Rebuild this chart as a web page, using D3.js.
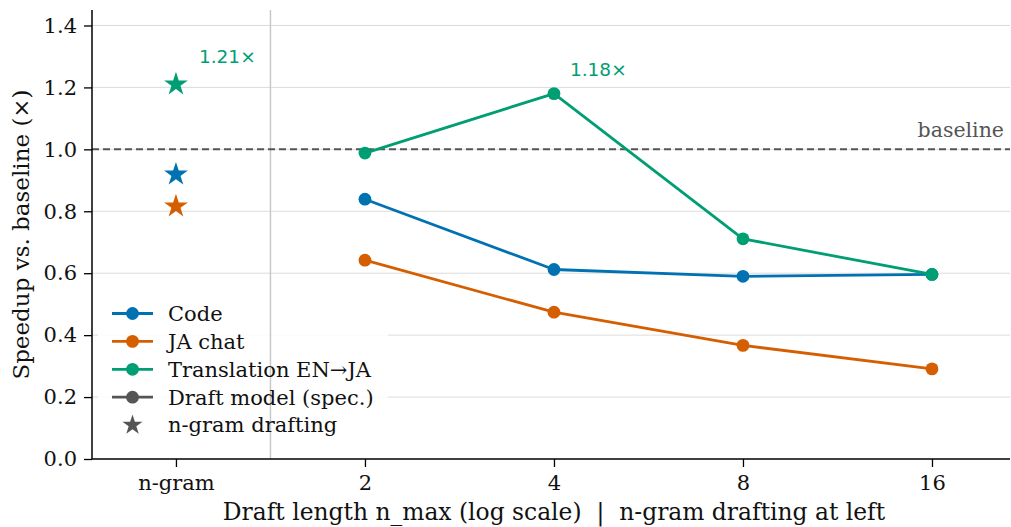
<!DOCTYPE html>
<html>
<head>
<meta charset="utf-8">
<script src="https://cdn.jsdelivr.net/npm/d3@7"></script>
<style>
  html, body { margin: 0; padding: 0; background: #fff; }
  svg { display: block; }
  text { white-space: pre; }
</style>
</head>
<body>
<svg id="chart" width="1011" height="527"></svg>
<script>
// Draft lengths (log-scaled x) and measured speedups per workload
const nMax = [2, 4, 8, 16];
const code = [0.839, 0.612, 0.590, 0.596];
const jaChat = [0.642, 0.474, 0.367, 0.291];
const translation = [0.988, 1.18, 0.711, 0.596];

// n-gram drafting results, drawn at the left slot
const ngramCode = 0.919;
const ngramJaChat = 0.816;
const ngramTranslation = 1.21;

const yTicks = [0.0, 0.2, 0.4, 0.6, 0.8, 1.0, 1.2, 1.4];
const xTickValues = [1, 2, 4, 8, 16];
const xTickLabels = ["n-gram", "2", "4", "8", "16"];
const seriesNames = ["Code", "JA chat", "Translation EN→JA"];
const colors = ["#0072B2", "#D55E00", "#009E73"];
const gray = "#555555";

const svg = d3.select("#chart");
const W = 1011, H = 527;
const margin = { top: 10, right: 1, bottom: 68, left: 92 };
const iw = W - margin.left - margin.right;
const ih = H - margin.top - margin.bottom;

const serif = "DejaVu Serif";
const sans = "DejaVu Sans";

// the n-gram slot sits at x=1 on the same log axis
const x = d3.scaleLog().base(2).domain([0.735, 21.3]).range([0, iw]);
const y = d3.scaleLinear().domain([0, 1.45]).range([ih, 0]);

const g = svg.append("g").attr("transform", `translate(${margin.left},${margin.top})`);

// horizontal grid
g.append("g").selectAll("line").data(yTicks.filter(d => d > 0)).join("line")
  .attr("x1", 0).attr("x2", iw)
  .attr("y1", d => y(d)).attr("y2", d => y(d))
  .attr("stroke", "#dcdcdc").attr("stroke-width", 1);

// legend background (drawn under the divider)
const legendRows = [
  { label: seriesNames[0], color: colors[0], kind: "line" },
  { label: seriesNames[1], color: colors[1], kind: "line" },
  { label: seriesNames[2], color: colors[2], kind: "line" },
  { label: "Draft model (spec.)", color: gray, kind: "line" },
  { label: "n-gram drafting", color: gray, kind: "star" }
];
const legendX = 20, legendY0 = 303.5, legendDy = 27.9;
g.append("rect")
  .attr("x", 6).attr("y", legendY0 - 18)
  .attr("width", 290).attr("height", legendDy * 5 + 8)
  .attr("fill", "#fff").attr("opacity", 0.85);

// divider between n-gram slot and draft-length sweep
g.append("line")
  .attr("x1", x(Math.SQRT2)).attr("x2", x(Math.SQRT2))
  .attr("y1", 0).attr("y2", ih)
  .attr("stroke", "#c8c8c8").attr("stroke-width", 1.5);

// baseline reference
g.append("line")
  .attr("x1", 0).attr("x2", iw)
  .attr("y1", y(1)).attr("y2", y(1))
  .attr("stroke", gray).attr("stroke-width", 2)
  .attr("stroke-dasharray", "7,4");
g.append("text")
  .attr("x", iw - 6).attr("y", y(1) - 12)
  .attr("text-anchor", "end")
  .attr("font-family", serif).attr("font-size", 20.5)
  .attr("fill", gray).text("baseline");

// series lines + markers
const allSeries = [code, jaChat, translation];
const line = d3.line().x((d, i) => x(nMax[i])).y(d => y(d));
allSeries.forEach((vals, k) => {
  g.append("path").datum(vals)
    .attr("d", line)
    .attr("fill", "none").attr("stroke", colors[k])
    .attr("stroke-width", 2.8).attr("stroke-linejoin", "round");
  g.append("g").selectAll("circle").data(vals).join("circle")
    .attr("cx", (d, i) => x(nMax[i])).attr("cy", d => y(d))
    .attr("r", 6.4).attr("fill", colors[k]);
});

// n-gram stars
const star = d3.symbol().type(d3.symbolStar);
const ngramVals = [ngramCode, ngramJaChat, ngramTranslation];
ngramVals.forEach((v, k) => {
  g.append("path")
    .attr("d", star.size(175)())
    .attr("transform", `translate(${x(1)},${y(v)})`)
    .attr("fill", colors[k]);
});

// value callouts
g.append("text")
  .attr("x", x(1) + 23).attr("y", y(ngramTranslation) - 21)
  .attr("font-family", sans).attr("font-size", 18.5)
  .attr("fill", colors[2]).text(`${ngramTranslation.toFixed(2)}×`);
const peak = d3.maxIndex(translation);
g.append("text")
  .attr("x", x(nMax[peak]) + 16).attr("y", y(translation[peak]) - 18)
  .attr("font-family", sans).attr("font-size", 18.5)
  .attr("fill", colors[2]).text(`${translation[peak].toFixed(2)}×`);

// legend entries
legendRows.forEach((r, i) => {
  const cy = legendY0 + i * legendDy;
  if (r.kind === "line") {
    g.append("line")
      .attr("x1", legendX).attr("x2", legendX + 41)
      .attr("y1", cy).attr("y2", cy)
      .attr("stroke", r.color).attr("stroke-width", 2.8);
    g.append("circle").attr("cx", legendX + 20.5).attr("cy", cy)
      .attr("r", 6.4).attr("fill", r.color);
  } else {
    g.append("path").attr("d", star.size(125)())
      .attr("transform", `translate(${legendX + 20.5},${cy})`)
      .attr("fill", r.color);
  }
  g.append("text")
    .attr("x", legendX + 56).attr("y", cy)
    .attr("dy", "0.35em")
    .attr("font-family", serif).attr("font-size", 21)
    .attr("fill", "#111").text(r.label);
});

// axes
const yAxis = d3.axisLeft(y).tickValues(yTicks).tickFormat(d3.format(".1f"))
  .tickSize(8).tickPadding(7);
const gy = g.append("g").call(yAxis);
const xAxis = d3.axisBottom(x).tickValues(xTickValues)
  .tickFormat((d, i) => xTickLabels[i]).tickSize(8).tickPadding(8);
const gx = g.append("g").attr("transform", `translate(0,${ih})`).call(xAxis);

[gx, gy].forEach(a => {
  a.select(".domain").attr("stroke", "#000").attr("stroke-width", 1.5);
  a.selectAll(".tick line").attr("stroke", "#000").attr("stroke-width", 1.3);
  a.selectAll(".tick text").attr("font-family", serif).attr("font-size", 21)
    .attr("fill", "#111");
});
gy.select(".domain").attr("d", `M0,0V${ih}`);
gx.select(".domain").attr("d", `M0,0H${iw}`);

// axis titles
svg.append("text")
  .attr("x", 554).attr("y", 519.5)
  .attr("text-anchor", "middle")
  .attr("font-family", serif).attr("font-size", 23.4)
  .attr("fill", "#111")
  .text("Draft length n_max (log scale)  |  n-gram drafting at left");
svg.append("text")
  .attr("transform", `translate(29,${margin.top + ih / 2}) rotate(-90)`)
  .attr("text-anchor", "middle")
  .attr("font-family", serif).attr("font-size", 23)
  .attr("fill", "#111")
  .text("Speedup vs. baseline (×)");
</script>
</body>
</html>
